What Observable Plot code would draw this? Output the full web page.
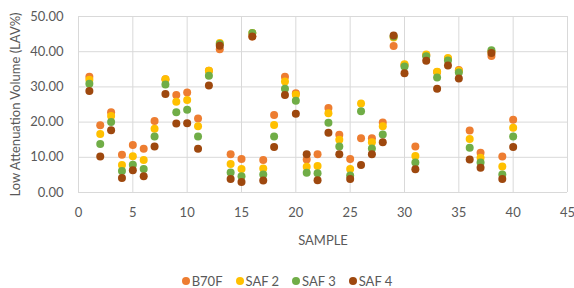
<!DOCTYPE html>
<html>
<head>
<meta charset="utf-8">
<script src="https://cdn.jsdelivr.net/npm/d3@7"></script>
<script src="https://cdn.jsdelivr.net/npm/@observablehq/plot@0.6"></script>
<style>
  html, body { margin: 0; padding: 0; background: #fff; }
  #wrap { width: 574px; font-family: Lato, "Open Sans", sans-serif; }
  #legend { margin-top: 23px; height: 16px; display: flex; justify-content: center; align-items: center; gap: 13px; font-size: 13px; color: #595959; padding-left: 0px; box-sizing: border-box; }
  #legend .it { display: flex; align-items: center; gap: 2px; }
  #legend .sw { width: 8px; height: 8px; border-radius: 50%; display: inline-block; }
</style>
</head>
<body>
<div id="wrap">
  <div id="chart"></div>
  <div id="legend"></div>
</div>
<script>
const samples = [1,2,3,4,5,6,7,8,9,10,11,12,13,14,15,16,17,18,19,20,21,22,23,24,25,26,27,28,29,30,31,32,33,34,35,36,37,38,39,40];
const seriesNames = ["B70F", "SAF 2", "SAF 3", "SAF 4"];
const seriesColors = ["#ED7D31", "#FFC000", "#70AD47", "#9E480E"];
const b70f = [32.9,19.1,22.8,10.7,13.5,12.4,20.3,32.2,27.7,28.4,21.0,34.6,40.7,10.9,9.5,44.3,9.2,22.0,32.9,28.2,9.4,10.9,24.0,16.4,9.5,15.4,15.4,19.9,41.6,36.2,13.1,39.0,34.2,38.0,34.8,17.6,11.3,38.8,10.2,20.7];
const saf2 = [32.0,16.6,21.7,7.8,10.3,9.2,18.1,32.2,25.8,26.3,18.8,34.6,42.5,8.1,6.7,45.3,6.8,19.2,31.5,27.8,7.3,7.5,22.5,15.0,6.7,25.3,14.3,18.8,44.0,36.4,10.4,39.2,34.3,38.2,34.6,15.2,9.9,40.0,7.4,18.4];
const saf3 = [30.9,13.8,20.0,6.1,7.9,6.7,15.9,30.7,22.8,23.5,15.9,33.2,42.2,5.7,4.6,45.3,5.1,15.9,29.5,26.1,5.6,5.5,19.8,13.1,4.8,23.1,12.5,16.5,44.3,35.8,8.5,38.7,32.7,37.5,34.1,12.7,8.5,40.4,5.1,15.9];
const saf4 = [28.8,10.2,17.7,4.1,6.3,4.6,13.1,28.0,19.6,19.7,12.4,30.4,41.7,3.8,3.0,44.3,3.4,12.9,27.7,22.4,10.9,3.5,17.0,10.9,3.8,7.8,10.9,14.3,44.6,33.9,6.6,37.4,29.5,36.1,32.4,9.4,7.0,39.6,3.8,12.9];
const xTicks = [0,5,10,15,20,25,30,35,40,45];
const yTicks = [0,10,20,30,40,50];

const allSeries = [b70f, saf2, saf3, saf4];
const data = [];
allSeries.forEach((vals, si) => {
  vals.forEach((v, i) => data.push({sample: samples[i], value: v, series: seriesNames[si]}));
});

const gridColor = "#d9d9d9";
const textColor = "#595959";

const chart = Plot.plot({
  width: 574,
  height: 250,
  marginTop: 16,
  marginBottom: 58,
  marginLeft: 78,
  marginRight: 7,
  style: { fontFamily: "Lato, 'Open Sans', sans-serif", fontSize: "13px", color: textColor, background: "#fff" },
  x: { domain: [0, 45] },
  y: { domain: [0, 50] },
  color: { domain: seriesNames, range: seriesColors },
  marks: [
    Plot.ruleX(xTicks, { stroke: gridColor, strokeWidth: 1 }),
    Plot.ruleY(yTicks, { stroke: gridColor, strokeWidth: 1 }),
    Plot.axisX(xTicks, { tickSize: 0, tickPadding: 15, tickFormat: d => String(d), label: "SAMPLE", labelAnchor: "center", labelArrow: "none", labelOffset: 52, fill: textColor }),
    Plot.axisY(yTicks, { tickSize: 0, tickPadding: 15, tickFormat: d => d.toFixed(2), label: "Low Attenuation Volume (LAV%)", labelAnchor: "center", labelArrow: "none", labelOffset: 68, fill: textColor }),
    Plot.dot(data, { x: "sample", y: "value", fill: "series", r: 4, stroke: "none" })
  ]
});
document.getElementById("chart").appendChild(chart);

const legend = document.getElementById("legend");
seriesNames.forEach((name, i) => {
  const it = document.createElement("span");
  it.className = "it";
  const sw = document.createElement("span");
  sw.className = "sw";
  sw.style.background = seriesColors[i];
  const tx = document.createElement("span");
  tx.textContent = name;
  it.appendChild(sw);
  it.appendChild(tx);
  legend.appendChild(it);
});
</script>
</body>
</html>
